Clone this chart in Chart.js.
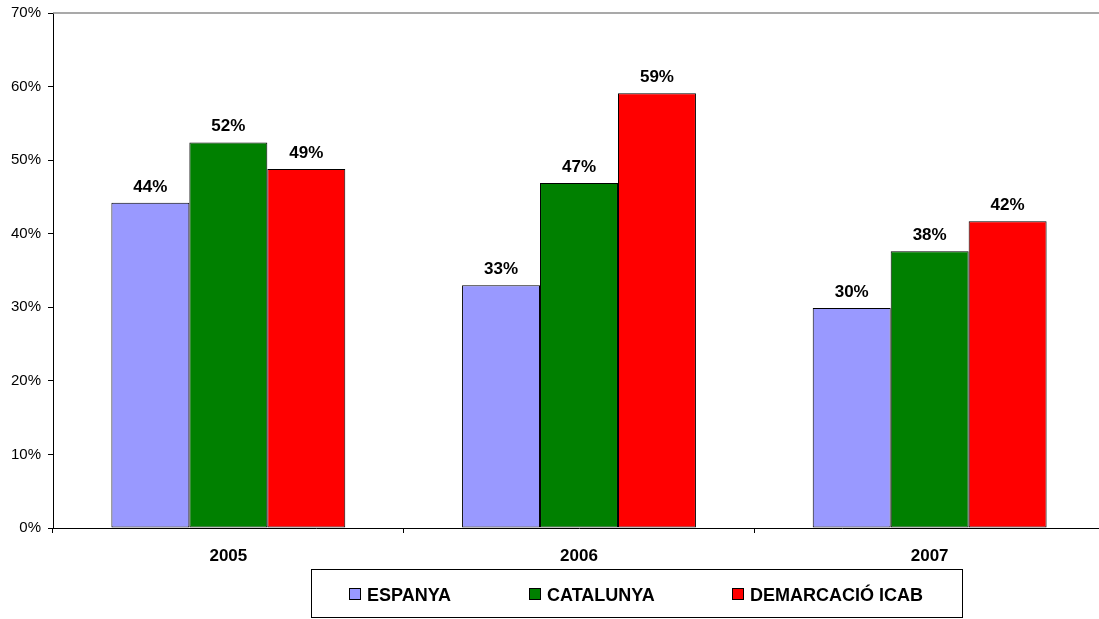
<!DOCTYPE html>
<html>
<head>
<meta charset="utf-8">
<script src="https://cdn.jsdelivr.net/npm/chart.js@4"></script>
<style>
html,body{margin:0;padding:0;background:#fff;overflow:hidden;}
#wrap{width:1110px;height:619px;}
</style>
</head>
<body>
<div id="wrap"><canvas id="c" width="1110" height="619"></canvas></div>
<script>
const categories = ['2005', '2006', '2007'];
const seriesNames = ['ESPANYA', 'CATALUNYA', 'DEMARCACIÓ ICAB'];
const espanya = [44.2, 33.0, 29.9];
const catalunya = [52.4, 46.9, 37.6];
const icab = [48.8, 59.1, 41.7];
const yTicks = [0, 10, 20, 30, 40, 50, 60, 70];
const colors = ['#9999FF', '#008000', '#FF0000'];

const FONT = '"Liberation Sans", Arial, sans-serif';

const labelPlugin = {
  id: 'labels',
  afterDatasetsDraw(chart) {
    const ctx = chart.ctx;
    ctx.save();
    ctx.font = 'bold 17px ' + FONT;
    ctx.fillStyle = '#000';
    ctx.textAlign = 'center';
    ctx.textBaseline = 'alphabetic';
    chart.data.datasets.forEach((ds, i) => {
      chart.getDatasetMeta(i).data.forEach((bar, j) => {
        ctx.fillText(Math.round(ds.data[j]) + '%', bar.x, bar.y - 11);
      });
    });
    ctx.restore();
  },
  afterDraw(chart) {
    const ctx = chart.ctx;
    const a = chart.chartArea;
    ctx.save();
    // top plot border
    ctx.strokeStyle = '#8c8c8c';
    ctx.lineWidth = 1.5;
    ctx.beginPath();
    ctx.moveTo(a.left, a.top);
    ctx.lineTo(a.right, a.top);
    ctx.stroke();
    // legend box
    const bx = 311.5, by = 569.5, bw = 651, bh = 48;
    ctx.strokeStyle = '#000';
    ctx.lineWidth = 1;
    ctx.strokeRect(bx, by, bw, bh);
    const itemX = [349, 529, 732];
    const cy = 594;
    ctx.font = 'bold 18px ' + FONT;
    ctx.textAlign = 'left';
    ctx.textBaseline = 'alphabetic';
    chart.data.datasets.forEach((ds, i) => {
      ctx.fillStyle = ds.backgroundColor;
      ctx.fillRect(itemX[i] + 0.5, cy - 5.5, 11, 11);
      ctx.strokeStyle = '#000';
      ctx.strokeRect(itemX[i] + 0.5, cy - 5.5, 11, 11);
      ctx.fillStyle = '#000';
      ctx.fillText(ds.label, itemX[i] + 18, cy + 6.5);
    });
    ctx.restore();
  }
};

new Chart(document.getElementById('c'), {
  type: 'bar',
  data: {
    labels: categories,
    datasets: [
      { label: seriesNames[0], data: espanya, backgroundColor: colors[0] },
      { label: seriesNames[1], data: catalunya, backgroundColor: colors[1] },
      { label: seriesNames[2], data: icab, backgroundColor: colors[2] }
    ].map(d => Object.assign(d, { borderColor: '#000', borderWidth: 1, borderSkipped: false, categoryPercentage: 0.667, barPercentage: 1 }))
  },
  options: {
    responsive: false,
    animation: false,
    layout: { padding: { top: 13, right: 5, left: 0, bottom: 0 } },
    plugins: { legend: { display: false }, tooltip: { enabled: false } },
    scales: {
      x: {
        grid: { display: true, drawOnChartArea: false, drawTicks: true, tickLength: 5, color: '#000', offset: true },
        border: { display: true, color: '#000', width: 1 },
        ticks: { color: '#000', font: { family: FONT, size: 17, weight: 'bold' }, padding: 13 },
        afterFit(s) { s.height = 91; s.paddingLeft = 0; s.paddingRight = 0; }
      },
      y: {
        min: 0, max: 70,
        afterBuildTicks(s) { s.ticks = yTicks.map(v => ({ value: v })); },
        grid: { display: true, drawOnChartArea: false, drawTicks: true, tickLength: 5, color: '#000' },
        border: { display: true, color: '#000', width: 1 },
        ticks: { color: '#000', font: { family: FONT, size: 15 }, padding: 7, callback: v => v + '%' },
        afterFit(s) { s.width = 53; s.paddingTop = 0; s.paddingBottom = 0; }
      }
    }
  },
  plugins: [labelPlugin]
});
</script>
</body>
</html>
